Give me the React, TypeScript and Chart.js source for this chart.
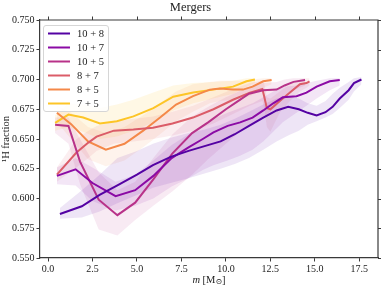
import React, { useEffect, useRef } from "react";
import { Chart, registerables } from "chart.js";
Chart.register(...registerables);

const seriesLabels = ["10 + 8", "10 + 7", "10 + 5", "8 + 7", "8 + 5", "7 + 5"];
const seriesColors = ["#5402a3", "#8b0aa5", "#b83289", "#db5c68", "#f48849", "#fdc527"];
const bandColors = [
  "rgba(84,2,163,0.10)",
  "rgba(139,10,165,0.10)",
  "rgba(184,50,137,0.10)",
  "rgba(219,92,104,0.10)",
  "rgba(244,136,73,0.10)",
  "rgba(253,197,39,0.12)",
];

const xTickValues = [0, 2.5, 5, 7.5, 10, 12.5, 15, 17.5];
const yTickValues = [0.55, 0.575, 0.6, 0.625, 0.65, 0.675, 0.7, 0.725, 0.75];

// 10 + 8
const m108 = [0.67, 1.9, 2.9, 3.9, 5.0, 5.9, 6.9, 7.9, 8.8, 9.7, 10.5, 11.3, 12.1, 12.85, 13.5, 14.1, 14.6, 15.1, 15.6, 16.0, 16.4, 16.9, 17.2, 17.62];
const h108 = [0.587, 0.5935, 0.603, 0.611, 0.62, 0.628, 0.635, 0.64, 0.644, 0.648, 0.654, 0.661, 0.668, 0.674, 0.677, 0.675, 0.672, 0.6697, 0.6725, 0.677, 0.684, 0.691, 0.697, 0.7];
const lo108 = [0.583, 0.584, 0.589, 0.596, 0.603, 0.609, 0.613, 0.617, 0.621, 0.625, 0.629, 0.634, 0.641, 0.648, 0.653, 0.657, 0.662, 0.665, 0.668, 0.671, 0.676, 0.683, 0.69, 0.696];
const hi108 = [0.592, 0.607, 0.62, 0.634, 0.64, 0.646, 0.651, 0.655, 0.658, 0.662, 0.667, 0.673, 0.679, 0.684, 0.686, 0.684, 0.68, 0.678, 0.682, 0.688, 0.693, 0.698, 0.701, 0.702];

// 10 + 7
const m107 = [0.5, 1.55, 2.5, 3.8, 4.9, 5.92, 6.95, 7.9, 8.7, 9.3, 10.1, 10.8, 11.5, 12.1, 12.66, 13.2, 13.97, 14.53, 15.1, 15.84, 16.4];
const h107 = [0.619, 0.6245, 0.613, 0.602, 0.607, 0.619, 0.634, 0.643, 0.65, 0.6555, 0.661, 0.664, 0.668, 0.674, 0.68, 0.685, 0.686, 0.689, 0.694, 0.6985, 0.6995];
const lo107 = [0.612, 0.611, 0.598, 0.59, 0.594, 0.6, 0.61, 0.617, 0.624, 0.628, 0.632, 0.636, 0.641, 0.648, 0.656, 0.664, 0.672, 0.678, 0.684, 0.691, 0.695];
const hi107 = [0.626, 0.634, 0.626, 0.614, 0.62, 0.632, 0.645, 0.654, 0.661, 0.667, 0.672, 0.676, 0.68, 0.685, 0.69, 0.694, 0.695, 0.697, 0.699, 0.701, 0.701];

// 10 + 5
const m105 = [0.4, 1.15, 1.8, 2.85, 3.9, 4.9, 5.92, 7.0, 8.1, 9.0, 10.0, 10.7, 11.3, 12.1, 12.85, 13.3, 13.8, 14.45];
const h105 = [0.662, 0.661, 0.631, 0.599, 0.586, 0.5965, 0.616, 0.638, 0.655, 0.664, 0.675, 0.682, 0.688, 0.691, 0.6915, 0.695, 0.698, 0.6995];
const lo105 = [0.655, 0.646, 0.612, 0.574, 0.569, 0.582, 0.594, 0.606, 0.62, 0.633, 0.646, 0.655, 0.662, 0.668, 0.678, 0.685, 0.691, 0.695];
const hi105 = [0.668, 0.668, 0.65, 0.622, 0.607, 0.614, 0.634, 0.654, 0.669, 0.677, 0.685, 0.69, 0.694, 0.697, 0.698, 0.7, 0.701, 0.701];

// 8 + 7
const m87 = [0.5, 1.6, 2.27, 2.73, 3.7, 4.8, 5.9, 7.0, 8.15, 9.3, 10.4, 11.35, 12.05, 12.15, 12.3, 12.5, 13.03, 13.6, 14.16, 14.53, 14.7];
const h87 = [0.62, 0.6386, 0.647, 0.652, 0.657, 0.658, 0.6595, 0.663, 0.668, 0.675, 0.683, 0.689, 0.692, 0.686, 0.676, 0.675, 0.682, 0.689, 0.696, 0.697, 0.6985];
const lo87 = [0.614, 0.626, 0.634, 0.64, 0.646, 0.648, 0.65, 0.653, 0.657, 0.663, 0.671, 0.678, 0.682, 0.676, 0.66, 0.656, 0.672, 0.682, 0.69, 0.693, 0.695];
const hi87 = [0.626, 0.65, 0.657, 0.661, 0.665, 0.667, 0.669, 0.673, 0.678, 0.685, 0.692, 0.697, 0.699, 0.697, 0.685, 0.684, 0.69, 0.696, 0.7, 0.701, 0.701];

// 8 + 5
const m85 = [0.5, 1.3, 2.25, 3.25, 4.3, 5.35, 6.3, 7.2, 8.15, 9.1, 9.66, 10.4, 10.96, 11.5, 12.1, 12.57];
const h85 = [0.672, 0.6625, 0.648, 0.641, 0.646, 0.657, 0.668, 0.679, 0.686, 0.6915, 0.6925, 0.6915, 0.6915, 0.694, 0.6985, 0.6995];
const lo85 = [0.664, 0.65, 0.633, 0.627, 0.632, 0.643, 0.654, 0.665, 0.673, 0.68, 0.682, 0.683, 0.684, 0.687, 0.693, 0.696];
const hi85 = [0.678, 0.672, 0.66, 0.655, 0.66, 0.67, 0.68, 0.69, 0.696, 0.698, 0.699, 0.699, 0.699, 0.7, 0.701, 0.701];

// 7 + 5
const m75 = [0.4, 1.15, 1.98, 2.92, 3.87, 4.8, 5.92, 7.04, 8.16, 9.29, 10.4, 11.16, 11.63];
const h75 = [0.6635, 0.6705, 0.668, 0.663, 0.665, 0.669, 0.676, 0.6855, 0.689, 0.6915, 0.694, 0.6985, 0.7];
const lo75 = [0.657, 0.66, 0.656, 0.65, 0.652, 0.657, 0.664, 0.674, 0.68, 0.684, 0.688, 0.694, 0.697];
const hi75 = [0.67, 0.68, 0.679, 0.676, 0.679, 0.683, 0.689, 0.695, 0.697, 0.698, 0.699, 0.701, 0.701];

const seriesMass = [m108, m107, m105, m87, m85, m75];
const seriesH = [h108, h107, h105, h87, h85, h75];
const seriesLo = [lo108, lo107, lo105, lo87, lo85, lo75];
const seriesHi = [hi108, hi107, hi105, hi87, hi85, hi75];

const SERIF = "'Liberation Serif', 'DejaVu Serif', serif";
const FRAME = "#3a3a3a";
const TEXT = "#222222";

const zip = (xs: number[], ys: number[]) => xs.map((x, i) => ({ x, y: ys[i] }));

const decor = {
  id: "decor",
  afterDraw(chart: any) {
    const { ctx, chartArea: ca } = chart;
    const xs = chart.scales.x;
    const ys = chart.scales.y;
    ctx.save();
    ctx.strokeStyle = FRAME;
    ctx.lineWidth = 1.2;
    ctx.beginPath();
    ctx.moveTo(ca.left, ca.top);
    ctx.lineTo(ca.right, ca.top);
    ctx.lineTo(ca.right, ca.bottom);
    ctx.stroke();
    ctx.lineWidth = 1;
    ctx.beginPath();
    xTickValues.forEach((v) => {
      const px = Math.round(xs.getPixelForValue(v)) + 0.5;
      ctx.moveTo(px, ca.top);
      ctx.lineTo(px, ca.top - 3.5);
    });
    yTickValues.forEach((v) => {
      const py = Math.round(ys.getPixelForValue(v)) + 0.5;
      ctx.moveTo(ca.right, py);
      ctx.lineTo(ca.right + 3.5, py);
    });
    ctx.stroke();

    ctx.fillStyle = TEXT;
    ctx.font = `12.5px ${SERIF}`;
    ctx.textAlign = "center";
    ctx.textBaseline = "middle";
    ctx.fillText("Mergers", chart.width / 2, 8);

    ctx.save();
    ctx.translate(6.5, (ca.top + ca.bottom) / 2);
    ctx.rotate(-Math.PI / 2);
    ctx.font = `10.5px ${SERIF}`;
    ctx.fillText("¹H fraction", 0, 0);
    ctx.restore();

    const parts = [
      { t: "m", f: `italic 10.5px ${SERIF}`, dy: 0 },
      { t: " [M", f: `10.5px ${SERIF}`, dy: 0 },
      { t: "⊙", f: `8px 'DejaVu Serif', serif`, dy: 1.5 },
      { t: "]", f: `10.5px ${SERIF}`, dy: 0 },
    ];
    let total = 0;
    parts.forEach((p) => {
      ctx.font = p.f;
      total += ctx.measureText(p.t).width;
    });
    let cx = (ca.left + ca.right) / 2 - total / 2;
    ctx.textAlign = "left";
    ctx.textBaseline = "alphabetic";
    parts.forEach((p) => {
      ctx.font = p.f;
      ctx.fillText(p.t, cx, 282.5 + p.dy);
      cx += ctx.measureText(p.t).width;
    });

    const bx = 43.5, by = 25.5, bw = 65, bh = 86;
    ctx.beginPath();
    if ((ctx as any).roundRect) (ctx as any).roundRect(bx, by, bw, bh, 2.5);
    else ctx.rect(bx, by, bw, bh);
    ctx.fillStyle = "rgba(255,255,255,0.85)";
    ctx.fill();
    ctx.strokeStyle = "#d6d6d6";
    ctx.lineWidth = 1;
    ctx.stroke();
    ctx.font = `10.5px ${SERIF}`;
    ctx.textBaseline = "middle";
    seriesLabels.forEach((lab, i) => {
      const yy = 33.5 + i * 14;
      ctx.strokeStyle = seriesColors[i];
      ctx.lineWidth = 2;
      ctx.beginPath();
      ctx.moveTo(48, yy);
      ctx.lineTo(70, yy);
      ctx.stroke();
      ctx.fillStyle = TEXT;
      ctx.fillText(lab, 77, yy + 0.5);
    });
    ctx.restore();
  },
};

export default function App() {
  const ref = useRef<HTMLCanvasElement | null>(null);
  useEffect(() => {
    if (!ref.current) return;
    const datasets: any[] = [];
    seriesLabels.forEach((lab, i) => {
      datasets.push({
        label: lab,
        data: zip(seriesMass[i], seriesH[i]),
        borderColor: seriesColors[i],
        borderWidth: 2,
        pointRadius: 0,
        fill: false,
        tension: 0,
        order: 0,
      });
    });
    seriesLabels.forEach((lab, i) => {
      const lowIndex = datasets.length;
      datasets.push({
        label: lab + " lo",
        data: zip(seriesMass[i], seriesLo[i]),
        borderWidth: 0,
        borderColor: "rgba(0,0,0,0)",
        pointRadius: 0,
        fill: false,
        order: 1,
      });
      datasets.push({
        label: lab + " hi",
        data: zip(seriesMass[i], seriesHi[i]),
        borderWidth: 0,
        borderColor: "rgba(0,0,0,0)",
        backgroundColor: bandColors[i],
        pointRadius: 0,
        fill: lowIndex,
        order: 1,
      });
    });

    const chart = new Chart(ref.current, {
      type: "line",
      data: { datasets },
      options: {
        animation: false,
        responsive: false,
        devicePixelRatio: 1,
        layout: { padding: { top: 20, right: 3, left: 0, bottom: 0 } },
        plugins: {
          legend: { display: false },
          title: { display: false },
          tooltip: { enabled: false },
          filler: { drawTime: "beforeDatasetsDraw" },
        },
        scales: {
          x: {
            type: "linear",
            min: -0.45,
            max: 18.55,
            afterBuildTicks: (s: any) => {
              s.ticks = xTickValues.map((v) => ({ value: v }));
            },
            afterFit: (s: any) => {
              s.height = 28;
            },
            ticks: {
              callback: (v: any) => Number(v).toFixed(1),
              font: { family: SERIF, size: 10 },
              color: TEXT,
              padding: 2,
              maxRotation: 0,
              autoSkip: false,
            },
            grid: { display: true, drawOnChartArea: false, drawTicks: true, tickLength: 3.5, color: FRAME },
            border: { display: true, color: FRAME, width: 1.2 },
          },
          y: {
            type: "linear",
            min: 0.55,
            max: 0.75,
            afterBuildTicks: (s: any) => {
              s.ticks = yTickValues.map((v) => ({ value: v }));
            },
            afterFit: (s: any) => {
              s.width = 40;
            },
            ticks: {
              callback: (v: any) => Number(v).toFixed(3),
              font: { family: SERIF, size: 10 },
              color: TEXT,
              padding: 2,
              autoSkip: false,
            },
            grid: { display: true, drawOnChartArea: false, drawTicks: true, tickLength: 3.5, color: FRAME },
            border: { display: true, color: FRAME, width: 1.2 },
          },
        },
      },
      plugins: [decor],
    } as any);
    return () => chart.destroy();
  }, []);

  return (
    <div style={{ position: "absolute", left: 0, top: 0, width: 381, height: 286, background: "#fff" }}>
      <canvas ref={ref} width={381} height={286} style={{ display: "block", width: 381, height: 286 }} />
    </div>
  );
}
